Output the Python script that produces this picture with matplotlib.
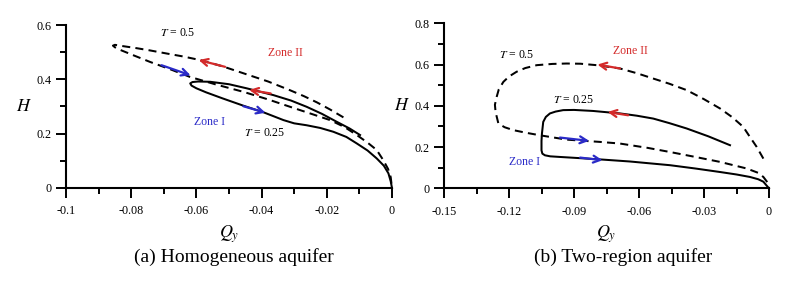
import matplotlib
matplotlib.use("Agg")
import matplotlib.pyplot as plt
from matplotlib.ticker import MultipleLocator, FixedLocator

plt.rcParams['font.family'] = ['Liberation Serif', 'DejaVu Serif']
plt.rcParams['mathtext.fontset'] = 'stix'

RED = '#d42a2a'
BLUE = '#2a2ac8'

# ---------------- Panel (a): homogeneous aquifer ----------------
a_t05_x = [-0.0149, -0.0190, -0.0230, -0.0270, -0.0313, -0.0380, -0.0455, -0.0520, -0.0589,
           -0.0640, -0.0691, -0.0745, -0.0790, -0.0830, -0.0850, -0.0856, -0.0850, -0.0835,
           -0.0790, -0.0742, -0.0680, -0.0620, -0.0540, -0.0456, -0.0380, -0.0313, -0.0250,
           -0.0190, -0.0145, -0.0108, -0.0075, -0.0047, -0.0027, -0.0012, -0.0004, 0.0]
a_t05_y = [0.260, 0.289, 0.315, 0.338, 0.360, 0.392, 0.422, 0.448, 0.471,
           0.484, 0.495, 0.507, 0.516, 0.523, 0.527, 0.524, 0.518, 0.509,
           0.487, 0.464, 0.437, 0.409, 0.381, 0.354, 0.326, 0.299, 0.274,
           0.250, 0.224, 0.195, 0.167, 0.140, 0.103, 0.070, 0.040, 0.0]

a_t025_x = [0.0, -0.0004, -0.0011, -0.0025, -0.0047, -0.0075, -0.0108, -0.0140, -0.0180,
            -0.0220, -0.0262, -0.0300, -0.0333, -0.0365, -0.0395, -0.0456, -0.0520, -0.0570,
            -0.0600, -0.0615, -0.0619, -0.0612, -0.0595, -0.0558, -0.0500, -0.0446, -0.0400,
            -0.0364, -0.0310, -0.0262, -0.0215, -0.0170, -0.0130, -0.0098]
a_t025_y = [0.0, 0.025, 0.054, 0.082, 0.109, 0.138, 0.164, 0.188, 0.207,
            0.221, 0.231, 0.238, 0.250, 0.265, 0.279, 0.303, 0.330, 0.352,
            0.367, 0.377, 0.385, 0.390, 0.392, 0.391, 0.382, 0.367, 0.353,
            0.342, 0.322, 0.299, 0.273, 0.244, 0.219, 0.195]

# arrows (tail_x, tail_y, head_x, head_y)
a_arrows_red = [(-0.0512, 0.446, -0.0593, 0.471), (-0.0372, 0.348, -0.0438, 0.361)]
a_arrows_blue = [(-0.0707, 0.452, -0.0618, 0.415), (-0.0456, 0.301, -0.0388, 0.277)]

a_xticks = [-0.1, -0.08, -0.06, -0.04, -0.02, 0.0]
a_xticklabels = ['-0.1', '-0.08', '-0.06', '-0.04', '-0.02', '0']
a_yticks = [0.0, 0.2, 0.4, 0.6]
a_yticklabels = ['0', '0.2', '0.4', '0.6']

# ---------------- Panel (b): two-region aquifer ----------------
b_t05_x = [-0.0026, -0.0057, -0.0090, -0.0119, -0.0170, -0.0226, -0.0300, -0.0380, -0.0460,
           -0.0534, -0.0610, -0.0688, -0.0796, -0.0870, -0.0934, -0.1000, -0.1072, -0.1125,
           -0.1165, -0.1200, -0.1226, -0.1247, -0.1257, -0.1265, -0.1262, -0.1249, -0.1220,
           -0.1180, -0.1120, -0.1057, -0.0934, -0.0781, -0.0688, -0.0560, -0.0457, -0.0340,
           -0.0226, -0.0103, -0.0050, -0.0026, -0.0008, 0.0]
b_t05_y = [0.144, 0.201, 0.252, 0.298, 0.345, 0.387, 0.432, 0.476, 0.507,
           0.532, 0.558, 0.581, 0.597, 0.604, 0.605, 0.603, 0.597, 0.583,
           0.565, 0.542, 0.516, 0.480, 0.443, 0.405, 0.370, 0.314, 0.296,
           0.282, 0.269, 0.257, 0.236, 0.225, 0.217, 0.196, 0.176, 0.152,
           0.128, 0.096, 0.075, 0.055, 0.030, 0.0]

b_t025_x = [0.0, -0.0010, -0.0026, -0.0050, -0.0088, -0.0150, -0.0226, -0.0340, -0.0457,
            -0.0560, -0.0642, -0.0765, -0.0870, -0.0965, -0.1010, -0.1034, -0.1046, -0.1050,
            -0.1050, -0.1048, -0.1042, -0.1030, -0.1011, -0.0985, -0.0950, -0.0900, -0.0812,
            -0.0688, -0.0610, -0.0534, -0.0460, -0.0380, -0.0280, -0.0180]
b_t025_y = [0.0, 0.012, 0.032, 0.044, 0.055, 0.067, 0.079, 0.096, 0.112,
            0.122, 0.130, 0.139, 0.146, 0.152, 0.155, 0.160, 0.168, 0.184,
            0.230, 0.265, 0.322, 0.346, 0.363, 0.372, 0.379, 0.380, 0.375,
            0.363, 0.352, 0.338, 0.316, 0.290, 0.252, 0.209]

b_arrows_red = [(-0.0688, 0.581, -0.0792, 0.600), (-0.0650, 0.354, -0.0745, 0.370)]
b_arrows_blue = [(-0.0965, 0.246, -0.0830, 0.230), (-0.0872, 0.149, -0.0768, 0.136)]

b_xticks = [-0.15, -0.12, -0.09, -0.06, -0.03, 0.0]
b_xticklabels = ['-0.15', '-0.12', '-0.09', '-0.06', '-0.03', '0']
b_yticks = [0.0, 0.2, 0.4, 0.6, 0.8]
b_yticklabels = ['0', '0.2', '0.4', '0.6', '0.8']

fig = plt.figure(figsize=(8.07, 2.89), dpi=100)
axA = fig.add_axes([66/807, 1 - 188/289, 326/807, 163/289])
axB = fig.add_axes([444/807, 1 - 188.3/289, 325/807, 165/289])

DASH = (0, (4.0, 2.6))
LW = 1.45


def style(ax, xlim, ylim, xticks, xlabels, yticks, ylabels, xminor, yminor):
    ax.set_xlim(*xlim)
    ax.set_ylim(*ylim)
    for s in ['top', 'right']:
        ax.spines[s].set_visible(False)
    for s in ['left', 'bottom']:
        ax.spines[s].set_linewidth(1.5)
    ax.set_xticks(xticks)
    ax.set_xticklabels(xlabels)
    ax.set_yticks(yticks)
    ax.set_yticklabels(ylabels)
    ax.xaxis.set_minor_locator(MultipleLocator(xminor))
    ax.yaxis.set_minor_locator(MultipleLocator(yminor))
    ax.tick_params(which='major', direction='out', length=7.5, width=1.4, labelsize=8.7, pad=3)
    ax.tick_params(axis='x', which='major', pad=5)
    ax.tick_params(which='minor', direction='out', length=4, width=1.4)
    ax.set_xlabel(r'$Q_y$', fontsize=13, labelpad=4)
    ax.set_ylabel(r'$H$', fontsize=13, rotation=0, labelpad=9, va='center')
    ax.patch.set_visible(False)


def arrows(ax, lst, color):
    for tx, ty, hx, hy in lst:
        ax.annotate('', xy=(hx, hy), xytext=(tx, ty),
                    arrowprops=dict(arrowstyle='->,head_length=0.5,head_width=0.25',
                                    color=color, lw=1.6, shrinkA=0, shrinkB=0))


# Panel (a)
axA.plot(a_t05_x, a_t05_y, color='black', lw=LW, linestyle=DASH, clip_on=False)
axA.plot(a_t025_x, a_t025_y, color='black', lw=LW, clip_on=False)
arrows(axA, a_arrows_red, RED)
arrows(axA, a_arrows_blue, BLUE)
style(axA, (-0.1, 0.0), (0, 0.6), a_xticks, a_xticklabels, a_yticks, a_yticklabels, 0.01, 0.1)
axA.text(-0.0658, 0.57, r'$T$ = 0.5', fontsize=8.5, ha='center', va='center')
axA.text(-0.0326, 0.497, 'Zone II', fontsize=8.5, color=RED, ha='center', va='center')
axA.text(-0.0561, 0.244, 'Zone I', fontsize=8.5, color=BLUE, ha='center', va='center')
axA.text(-0.039, 0.203, r'$T$ = 0.25', fontsize=8.5, ha='center', va='center')

# Panel (b)
axB.plot(b_t05_x, b_t05_y, color='black', lw=LW, linestyle=DASH, clip_on=False)
axB.plot(b_t025_x, b_t025_y, color='black', lw=LW, clip_on=False)
arrows(axB, b_arrows_red, RED)
arrows(axB, b_arrows_blue, BLUE)
style(axB, (-0.15, 0.0), (0, 0.8), b_xticks, b_xticklabels, b_yticks, b_yticklabels, 0.015, 0.1)
axB.text(-0.1165, 0.646, r'$T$ = 0.5', fontsize=8.5, ha='center', va='center')
axB.text(-0.0638, 0.665, 'Zone II', fontsize=8.5, color=RED, ha='center', va='center')
axB.text(-0.090, 0.427, r'$T$ = 0.25', fontsize=8.5, ha='center', va='center')
axB.text(-0.113, 0.128, 'Zone I', fontsize=8.5, color=BLUE, ha='center', va='center')

fig.text(234/807, 1 - 257/289, '(a) Homogeneous aquifer', fontsize=14, ha='center', va='center')
fig.text(623/807, 1 - 257/289, '(b) Two-region aquifer', fontsize=14, ha='center', va='center')

fig.savefig('out.png', dpi=100)
